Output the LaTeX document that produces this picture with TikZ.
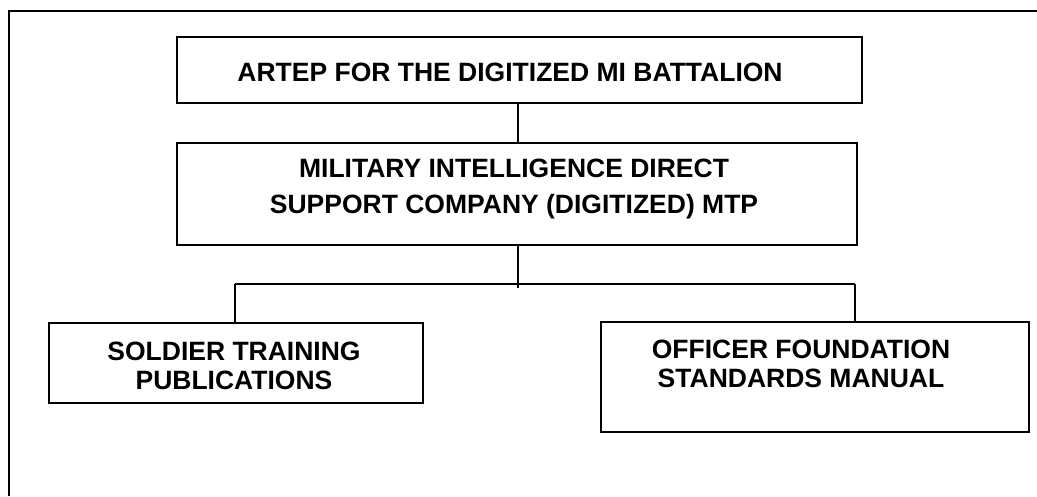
\documentclass[tikz,border=0pt]{standalone}
\usepackage{fontspec}
\setmainfont{Liberation Sans}
\begin{document}
\begin{tikzpicture}[x=1pt,y=-1pt,line width=1.3pt,
    box/.style={draw,inner sep=0pt},
    lbl/.style={inner sep=0pt,anchor=north,align=center,font=\fontsize{26.5}{36}\selectfont\bfseries},
    lblsmall/.style={lbl,font=\fontsize{26.5}{29.5}\selectfont\bfseries}]
    \useasboundingbox (0,0) rectangle (1037,496);
    \draw (1037,11)--(9,11)--(9,496);
    \node [box,minimum width=685pt,minimum height=66pt] (artep) at (519.5,70) {};
    \node [lbl] (artepT) at (510,62) {ARTEP FOR THE DIGITIZED MI BATTALION};
    \node [box,minimum width=680pt,minimum height=102pt] (mtp) at (517,194) {};
    \node [lbl] (mtpT) at (514,158) {MILITARY INTELLIGENCE DIRECT\\SUPPORT COMPANY (DIGITIZED) MTP};
    \node [box,minimum width=374pt,minimum height=80pt] (stp) at (236,363) {};
    \node [lblsmall] (stpT) at (234,341) {SOLDIER TRAINING\\PUBLICATIONS};
    \node [box,minimum width=428pt,minimum height=110pt] (ofsm) at (815,377) {};
    \node [lblsmall] (ofsmT) at (801,339) {OFFICER FOUNDATION\\STANDARDS MANUAL};
    \coordinate (busL) at (235,284);
    \coordinate (busR) at (855,284);
    \coordinate (jn) at (518,288);
    \draw (artep.south -| jn)--(mtp.north -| jn);
    \draw (mtp.south -| jn)--(jn);
    \draw (busL)--(busR);
    \draw (busL)--(busL |- stp.north);
    \draw (busR)--(busR |- ofsm.north);
\end{tikzpicture}
\end{document}
